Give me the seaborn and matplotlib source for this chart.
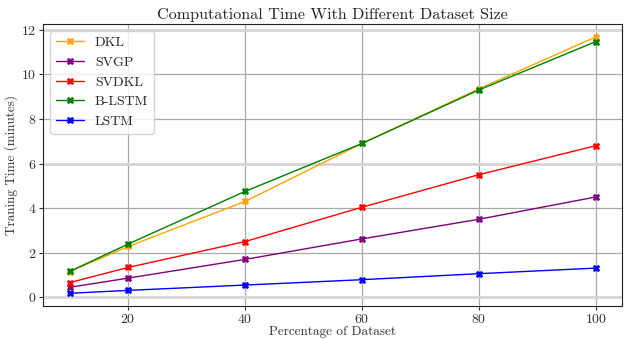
import pandas as pd
import seaborn as sns
import matplotlib.pyplot as plt

# data
percent = [10, 20, 40, 60, 80, 100]
dkl = [1.15, 2.28, 4.3, 6.9, 9.35, 11.68]
svgp = [0.45, 0.86, 1.7, 2.62, 3.5, 4.5]
svdkl = [0.66, 1.34, 2.5, 4.04, 5.5, 6.8]
blstm = [1.16, 2.39, 4.75, 6.9, 9.3, 11.47]
lstm = [0.18, 0.31, 0.55, 0.79, 1.06, 1.31]

models = ["DKL", "SVGP", "SVDKL", "B-LSTM", "LSTM"]
colors = {"DKL": "orange", "SVGP": "purple", "SVDKL": "red",
          "B-LSTM": "green", "LSTM": "blue"}

df = pd.DataFrame({"Percentage of Dataset": percent,
                   "DKL": dkl, "SVGP": svgp, "SVDKL": svdkl,
                   "B-LSTM": blstm, "LSTM": lstm})
long_df = df.melt(id_vars="Percentage of Dataset", var_name="Model",
                  value_name="Traning Time (minutes)")

sns.set_style("ticks")
plt.rcParams["font.family"] = "serif"
plt.rcParams["font.serif"] = ["cmr10"]
plt.rcParams["mathtext.fontset"] = "cm"
plt.rcParams["axes.formatter.use_mathtext"] = True

fig, ax = plt.subplots(figsize=(6.24, 3.39), dpi=100)

sns.lineplot(data=long_df, x="Percentage of Dataset",
             y="Traning Time (minutes)", hue="Model", hue_order=models,
             palette=colors, marker="X", markersize=5, linewidth=1, ax=ax)

# markers filled with their own colour, no white edge
for line in ax.lines:
    line.set_markeredgecolor(line.get_color())
    line.set_markeredgewidth(0.6)

ax.grid(color="darkgrey", linewidth=0.9)
ax.set_axisbelow(True)
# light wide lines at a few levels, over the regular grid
for yv in [0, 6, 12]:
    ax.axhline(yv, color="#d6d6d6", linewidth=2, zorder=1)

ax.set_xticks([20, 40, 60, 80, 100])
ax.set_yticks([0, 2, 4, 6, 8, 10, 12])
ax.tick_params(labelsize=10, length=3, colors="#333333", pad=2)
for spine in ax.spines.values():
    spine.set_visible(True)
    spine.set_color("#222222")

ax.set_title("Computational Time With Different Dataset Size", fontsize=11.7,
             pad=4, color="#222222")
ax.set_xlabel("Percentage of Dataset", fontsize=9.5, labelpad=0,
              color="#333333")
ax.set_ylabel("Traning Time (minutes)", fontsize=9.5, labelpad=2,
              color="#333333")
leg = ax.legend(loc="upper left", fontsize=10, framealpha=0.8)
leg.set_title(None)
for handle in leg.legend_handles:
    handle.set_markeredgecolor(handle.get_color())

fig.subplots_adjust(left=0.0695, right=0.997, top=0.929, bottom=0.097)
plt.savefig("out.png")
plt.close()
